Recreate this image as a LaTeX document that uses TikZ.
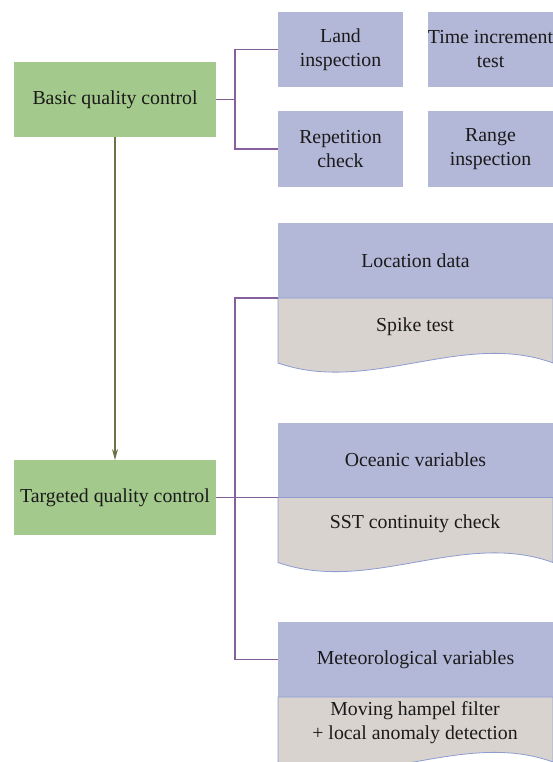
\documentclass[tikz,border=0pt]{standalone}
\usepackage{fontspec}
\setmainfont{Liberation Serif}
\usetikzlibrary{arrows.meta,calc}
\definecolor{qgreen}{HTML}{A4C98C}
\definecolor{qblue}{HTML}{B3B8D8}
\definecolor{qgray}{HTML}{D9D3CF}
\definecolor{qedge}{HTML}{8E9CD2}
\definecolor{qconn}{HTML}{85609A}
\definecolor{qarrow}{HTML}{6B7149}
\definecolor{qtext}{HTML}{1A1A1A}
\begin{document}
\begin{tikzpicture}[x=1pt,y=-1pt,
  every node/.style={font=\fontsize{19.8}{24}\selectfont, text=qtext, inner sep=0pt, outer sep=0pt},
  gbox/.style={fill=qgreen, minimum width=202pt, minimum height=75pt},
  sbox/.style={fill=qblue, minimum width=125pt, minimum height=75pt, align=center},
  hbox/.style={fill=qblue, minimum width=275pt, minimum height=75pt, anchor=north west},
  conn/.style={draw=qconn, line width=1.3pt},
  lowpart/.style={fill=qgray, draw=qedge, line width=0.8pt},
  lbl/.style={align=center}]
\useasboundingbox (0,0) rectangle (553,762);
\fill[white] (0,0) rectangle (553,762);

% top part
\node[gbox] (bqc) at (115,99.5) {Basic quality control};
\node[sbox] (land) at (340.5,49.5) {Land\\inspection};
\node[sbox] (time) at (490.5,49.5) {Time increment\\test};
\node[sbox] (rep) at (340.5,149) {Repetition\\check};
\node[sbox] (range) at (490.5,149) {Range\\inspection};
\node[gbox] (tqc) at (115,497.5) {Targeted quality control};

% lower blocks
\node[hbox] (loc) at (278,223) {Location data};
\draw[lowpart] (loc.south west) -- (278,363) .. controls (370,395) and (462,330) .. (553,363) -- (loc.south east) -- cycle;
\node[lbl] (spk) at (415,327) {Spike test};

\node[hbox] (oce) at (278,422.5) {Oceanic variables};
\draw[lowpart] (oce.south west) -- (278,562.5) .. controls (370,594.5) and (462,529.5) .. (553,562.5) -- (oce.south east) -- cycle;
\node[lbl] (sst) at (415,524) {SST continuity check};

\node[hbox] (met) at (278,622) {Meteorological variables};
\draw[lowpart] (met.south west) -- (278,762) .. controls (370,794) and (462,729) .. (553,762) -- (met.south east) -- cycle;
\node[lbl] (ham) at (415,723) {Moving hampel filter\\+ local anomaly detection};

% connectors
\coordinate (j1) at (235,99.5);
\coordinate (j2) at (235,497.5);
\draw[conn] (bqc.east) -- (j1);
\draw[conn] (land.west) -| (j1) |- (rep.west);
\draw[conn] (tqc.east) -- (oce.south west);
\draw[conn] (loc.south west) -| (j2) |- (met.west);
\draw[draw=qarrow, line width=1.3pt, -{Stealth[length=11pt,width=6pt]}] (bqc.south) -- (tqc.north);
\end{tikzpicture}
\end{document}
